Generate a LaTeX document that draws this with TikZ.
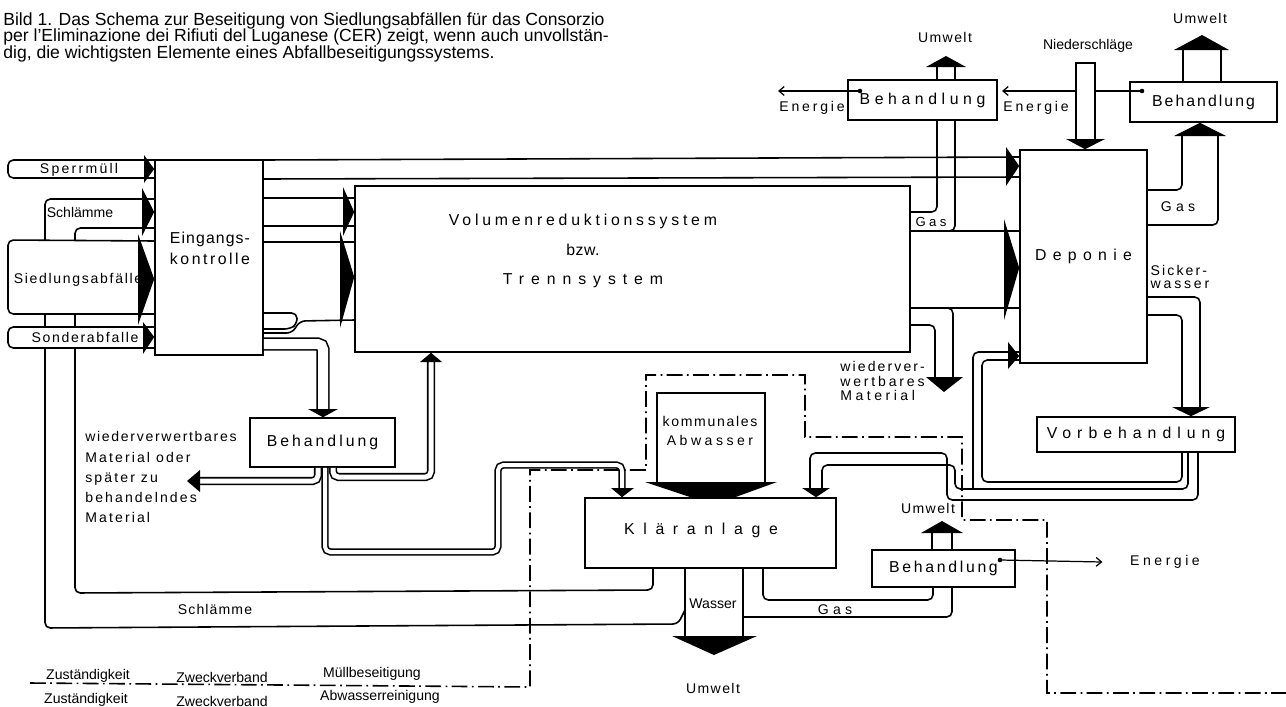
\documentclass[tikz,border=0pt]{standalone}
\usepackage{fontspec}
\setmainfont{Liberation Sans}
\usetikzlibrary{arrows.meta}
\newcommand{\ls}[2]{{\addfontfeature{LetterSpace=#1}#2}}
\newcommand{\lblfont}{\fontsize{8}{9.5}\selectfont}
\newcommand{\bigfont}{\fontsize{9}{10}\selectfont}

\begin{document}
\begin{tikzpicture}[x=0.02cm,y=-0.02cm,
    box/.style={draw,line width=0.9pt,inner sep=0pt,fill=white,font=\bigfont},
    lbl/.style={inner sep=0pt,font=\lblfont},
    flow/.style={line width=0.9pt,rounded corners=3pt},
    pipe/.style={line width=0.9pt,double,double distance=#1,rounded corners=3pt},
    pipe/.default=0.1cm,
    border/.style={line width=0.9pt,dash pattern=on 9pt off 2.5pt on 1pt off 2.5pt},
    ebarb/.style={line width=0.7pt,-{Straight Barb[length=3pt,width=5pt]}}]
\useasboundingbox (0,0) rectangle (1286,707);

% caption
\node[anchor=north west,align=left,inner sep=0pt,font=\fontsize{10}{9.5}\selectfont] (cap) at (3,12)
  {Bild 1. Das Schema zur Beseitigung von Siedlungsabfällen für das Consorzio\\
   per l'Eliminazione dei Rifiuti del Luganese (CER) zeigt, wenn auch unvollstän-\\
   dig, die wichtigsten Elemente eines Abfallbeseitigungssystems.};

% boxes
\node[box,minimum width=2.16cm,minimum height=3.9cm] (ein) at (209,257.5) {};
\node[box,minimum width=11.1cm,minimum height=3.32cm] (vol) at (632.5,269) {};
\node[box,minimum width=2.54cm,minimum height=4.26cm] (dep) at (1083.5,256.5) {\ls{40}{Deponie}};
\node[box,minimum width=2.98cm,minimum height=0.8cm] (behM) at (922.5,100) {\ls{29}{Behandlung}};
\node[box,minimum width=2.94cm,minimum height=0.8cm] (behR) at (1203.5,102) {\ls{13}{Behandlung}};
\node[box,minimum width=3.96cm,minimum height=0.7cm] (vor) at (1136,434.5) {\ls{38}{Vorbehandlung}};
\node[box,minimum width=2.9cm,minimum height=0.98cm] (behL) at (322.5,442.5) {\ls{19}{Behandlung}};
\node[box,minimum width=5.02cm,minimum height=1.4cm] (kla) at (710.5,533) {};
\node[box,minimum width=2.86cm,minimum height=0.74cm] (behU) at (943.5,568.5) {\ls{17}{Behandlung}};
\node[box,minimum width=2.16cm,minimum height=1.82cm] (kom) at (711,438.5) {};

% energy lines
\coordinate (eM) at (860,91);
\coordinate (eMend) at (778,91);
\coordinate (eR) at (1142,91);
\coordinate (eRend) at (1002,91);
\coordinate (eU) at (1000,560);
\draw[ebarb] (eM) -- (eMend);
\draw[ebarb] (eR) -- (eRend);
\node[box,minimum width=0.38cm,minimum height=1.54cm] (nied) at (1085.5,101.5) {};
\fill (eM) circle (1.3pt) (eR) circle (1.3pt) (eU) circle (1.3pt);

% texts
\node[lbl,align=center,font=\fontsize{9}{12}\selectfont] (eintext) at (210,248) {\ls{7}{Eingangs-}\\\ls{16}{kontrolle}};
\node[lbl,align=center,font=\fontsize{9}{17}\selectfont] (voltext) at (583,251)
  {\ls{24}{Volumenreduktionssystem}\\\ls{3}{bzw.}\\\ls{44}{Trennsystem}};
\node[lbl,font=\bigfont] (klatext) at (701,530) {\ls{55}{Kläranlage}};
\node[lbl,align=center,font=\fontsize{8}{10.8}\selectfont] (komtext) at (710,431) {\ls{12}{kommunales}\\\ls{25}{Abwasser}};
\node[lbl] (sperr) at (79,170) {\ls{16}{Sperrmüll}};
\node[lbl] (schlO) at (80,212) {Schlämme};
\node[lbl] (sied) at (78,280) {\ls{12}{Siedlungsabfälle}};
\node[lbl] (sond) at (85,337) {\ls{12}{Sonderabfalle}};
\node[lbl] (schlU) at (215,609) {\ls{8}{Schlämme}};
\node[lbl] (wass) at (713,604) {Wasser};
\node[lbl] (umwK) at (713,688) {\ls{10}{Umwelt}};
\node[lbl] (gasK) at (835,610) {\ls{30}{Gas}};
\node[lbl] (umwU) at (928,508) {\ls{10}{Umwelt}};
\node[lbl] (enU) at (1165,562) {\ls{25}{Energie}};
\node[lbl,font=\fontsize{7.5}{9}\selectfont] (gasV) at (931,222) {\ls{25}{Gas}};
\node[lbl] (umwM) at (945,37) {\ls{10}{Umwelt}};
\node[lbl] (enM) at (812,108) {\ls{20}{Energie}};
\node[lbl] (enR) at (1036,108) {\ls{20}{Energie}};
\node[lbl] (nieder) at (1088,46) {Niederschläge};
\node[lbl] (umwR) at (1200,18) {\ls{10}{Umwelt}};
\node[lbl] (gasD) at (1178,207) {\ls{30}{Gas}};
\node[lbl,align=left,font=\fontsize{8}{7}\selectfont] (sick) at (1180,277) {\ls{15}{Sicker-}\\\ls{20}{wasser}};
\node[lbl,align=left,anchor=west,font=\fontsize{8}{8.2}\selectfont] (wvR) at (840,381)
  {\ls{15}{wiederver-}\\\ls{20}{wertbares}\\\ls{25}{Material}};
\node[lbl,align=left,anchor=west,font=\fontsize{8}{11.4}\selectfont] (wvL) at (85,477)
  {\ls{12}{wiederverwertbares}\\\ls{15}{Material  oder}\\\ls{15}{später  zu}\\\ls{15}{behandelndes}\\\ls{15}{Material}};
\node[lbl] (zu1) at (88,676) {Zuständigkeit};
\node[lbl] (zw1) at (222,677) {Zweckverband};
\node[lbl] (mb) at (372,674) {Müllbeseitigung};
\node[lbl] (zu2) at (86,700) {Zuständigkeit};
\node[lbl] (zw2) at (222,701) {Zweckverband};
\node[lbl] (ab) at (380,697) {Abwasserreinigung};

% inputs to Eingangskontrolle
\draw[flow] (ein.west |- 0,160) -- (8,160) -- (8,178) -- (ein.west |- 0,178);
\fill (144,155) -- (ein.west |- 0,169) -- (144,183) -- cycle;
\draw[flow] (ein.west |- 0,199) -- (45,199) -- (45,240);
\draw[flow] (ein.west |- 0,228) -- (75,228) -- (75,240);
\fill (142,188) -- (ein.west |- 0,212) -- (142,236) -- cycle;
\draw[flow] (ein.west |- 0,241) -- (8,240) -- (8,314) -- (ein.west |- 0,314);
\fill (138,234) -- (ein.west |- 0,279) -- (138,325) -- cycle;
\draw[flow] (ein.west |- 0,327) -- (8,327) -- (8,348) -- (ein.west |- 0,348);
\fill (143,322) -- (ein.west |- 0,337) -- (143,354) -- cycle;
\draw[line width=0.9pt] (45,314) -- (45,327) (75,314) -- (75,327);

% Schlaemme back from Klaeranlage
\draw[flow] (kla.south -| 653,0) -- (653,590) -- (75,593) -- (75,348);
\draw[flow] (685,610) -- (678,624) -- (45,628) -- (45,348);

% Eingangskontrolle to Deponie and Volumenreduktion
\draw[line width=0.9pt] (ein.east |- 0,160) -- (dep.west |- 0,157);
\draw[line width=0.9pt] (ein.east |- 0,179) -- (dep.west |- 0,177);
\fill (1006,147) -- (dep.west |- 0,166) -- (1006,186) -- cycle;
\draw[line width=0.9pt] (ein.east |- 0,198) -- (vol.west |- 0,198);
\draw[line width=0.9pt] (ein.east |- 0,226) -- (vol.west |- 0,226);
\fill (343,187) -- (vol.west |- 0,212) -- (343,236) -- cycle;
\draw[line width=0.9pt] (ein.east |- 0,242) -- (vol.west |- 0,242);
\draw[flow] (ein.east |- 0,333) -- (292,333) -- (300,321) -- (vol.west |- 0,320);
\fill (340,231) -- (vol.west |- 0,277) -- (340,328) -- cycle;
\draw[flow] (ein.east |- 0,313) -- (297,313) -- (297,324) -- (290,329) -- (ein.east |- 0,329);

% Eingangskontrolle to Behandlung and onwards
\draw[pipe=0.2cm] (ein.east |- 0,344) -- (323,344) -- (323,410);
\fill (308,409) -- (338,409) -- (behL.north -| 323,0) -- cycle;
\draw[pipe=0.08cm] (behL.south -| 325,0) -- (325,552) -- (498,552) -- (498,465) -- (622,465) -- (622,489);
\fill (611,488) -- (634,488) -- (kla.north -| 622,0) -- cycle;
\draw[pipe] (behL.south -| 318,0) -- (318,481) -- (199,481);
\fill (200,470) -- (200,492) -- (187,481) -- cycle;
\draw[pipe] (behL.south -| 333,0) -- (333,477) -- (431,477) -- (431,362);
\fill (420,362) -- (442,362) -- (vol.south -| 431,0) -- cycle;

% Volumenreduktion to Deponie, Gas and Material
\draw[line width=0.9pt] (vol.east |- 0,231) -- (dep.west |- 0,231);
\draw[line width=0.9pt] (vol.east |- 0,308) -- (dep.west |- 0,308);
\fill (1004,219) -- (dep.west |- 0,268) -- (1004,320) -- cycle;
\draw[flow] (vol.east |- 0,212) -- (937,212) -- (behM.south -| 937,0);
\draw[flow] (vol.east |- 0,231) -- (955,231) -- (behM.south -| 955,0);
\draw[line width=0.9pt] (behM.north -| 937,0) -- (937,67) (behM.north -| 955,0) -- (955,67);
\fill (926,67) -- (966,67) -- (946,56) -- cycle;
\draw[flow] (vol.east |- 0,325) -- (935,325) -- (935,378);
\draw[flow] (vol.east |- 0,308) -- (953,308) -- (953,378);
\fill (926,377) -- (963,377) -- (944,392) -- cycle;

% Niederschlaege
\fill (1066,139) -- (1105,139) -- (dep.north -| 1085,0) -- cycle;

% Deponie to Behandlung (Gas) and Vorbehandlung
\draw[flow] (dep.east |- 0,190) -- (1182,190) -- (1182,136);
\draw[flow] (dep.east |- 0,225) -- (1218,225) -- (1218,136);
\fill (1174,136) -- (1226,136) -- (behR.south -| 1200,0) -- cycle;
\draw[line width=0.9pt] (behR.north -| 1183,0) -- (1183,50) (behR.north -| 1221,0) -- (1221,50);
\fill (1174,50) -- (1229,50) -- (1202,35) -- cycle;
\draw[flow] (dep.east |- 0,297) -- (1200,297) -- (1200,408);
\draw[flow] (dep.east |- 0,315) -- (1182,315) -- (1182,408);
\fill (1172,407) -- (1210,407) -- (vor.north -| 1191,0) -- cycle;

% Vorbehandlung back to Deponie and to Klaeranlage
\draw[flow] (vor.south -| 1182,0) -- (1182,482) -- (982,482) -- (982,360) -- (dep.west |- 0,360);
\draw[flow] (973,489) -- (973,352) -- (dep.west |- 0,352);
\fill (1008,342) -- (dep.west |- 0,356) -- (1008,369) -- cycle;
\draw[flow] (vor.south -| 1188,0) -- (1188,489) -- (955,489) -- (955,465) -- (822,465) -- (822,489);
\draw[flow] (vor.south -| 1198,0) -- (1198,500) -- (947,500) -- (947,453) -- (810,453) -- (810,489);
\fill (802,488) -- (830,488) -- (kla.north -| 816,0) -- cycle;

% kommunales Abwasser
\fill (645,482) -- (777,482) -- (733,498) -- (693,498) -- cycle;

% Klaeranlage outputs
\draw[line width=0.9pt] (kla.south -| 685,0) -- (685,637) (kla.south -| 743,0) -- (743,637);
\fill (672,636) -- (757,636) -- (714,655) -- cycle;
\draw[flow] (kla.south -| 763,0) -- (763,600) -- (933,600) -- (behU.south -| 933,0);
\draw[flow] (743,617) -- (952,617) -- (behU.south -| 952,0);
\draw[line width=0.9pt] (behU.north -| 932,0) -- (932,532) (behU.north -| 952,0) -- (952,532);
\fill (921,533) -- (963,533) -- (942,521) -- cycle;
\draw[ebarb] (eU) -- ([xshift=-0.55cm]enU.west);

% boundary of the two Zweckverbaende
\draw[border] (30,683) -- (530,687) -- (530,470) -- (646,470) -- (646,375) -- (805,375)
  -- (805,437) -- (962,437) -- (962,520) -- (1047,520) -- (1047,693) -- (1286,693);
\end{tikzpicture}
\end{document}
